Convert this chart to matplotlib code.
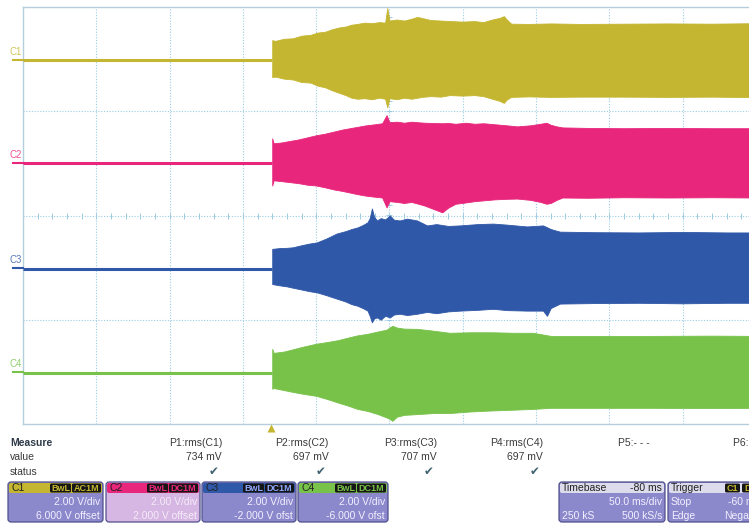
"""
Four-channel scope capture (rms of C1..C4) with measurement/channel strip.
"""

import matplotlib
matplotlib.use('Agg')
import matplotlib.pyplot as plt
from matplotlib.patches import FancyBboxPatch
import numpy as np

plt.rcParams['font.family'] = ['Liberation Sans', 'DejaVu Sans']

# ── Screen scale: 50 ms/div, -80 ms delay; 2 V/div, 8 div ─────
T_LEFT, T_RIGHT = -170, 330
V_LOW, V_HIGH = -8, 8

channels = ['C1', 'C2', 'C3', 'C4']
colors = ['#c4b630', '#e8267c', '#3058a8', '#78c24a']
baselines = [5.96, 2.0, -2.04, -6.04]

# envelopes after the trigger: time (ms), upper / lower edge (V on screen)
c1_t = [0, 2, 8, 14, 20, 26, 31, 36, 41, 46, 50, 54, 58, 63, 68, 73, 77, 78.5, 80, 85, 90, 95, 99, 102,
        108, 115, 121, 130, 138, 144, 150, 155, 158, 160, 163, 175, 190, 210, 240, 270, 300, 330]
c1_hi = [6.73, 6.70, 6.78, 6.80, 6.90, 6.93, 7.02, 7.05, 7.15, 7.22, 7.25, 7.32, 7.35, 7.40, 7.38, 7.42,
         7.40, 7.96, 7.48, 7.52, 7.48, 7.55, 7.62, 7.58, 7.50, 7.48, 7.46, 7.44, 7.46, 7.42, 7.52, 7.58,
         7.65, 7.52, 7.36, 7.35, 7.37, 7.35, 7.36, 7.37, 7.36, 7.38]
c1_lo = [5.31, 5.33, 5.25, 5.22, 5.12, 5.10, 4.98, 4.92, 4.80, 4.70, 4.62, 4.52, 4.48, 4.50, 4.46, 4.52,
         4.48, 4.15, 4.50, 4.46, 4.52, 4.48, 4.52, 4.55, 4.58, 4.56, 4.62, 4.60, 4.62, 4.58, 4.48, 4.40,
         4.32, 4.45, 4.55, 4.57, 4.55, 4.56, 4.56, 4.55, 4.56, 4.54]

c2_t = [0, 1, 6, 12, 18, 24, 30, 36, 42, 48, 53, 58, 64, 70, 75, 78, 80, 85, 90, 95, 99, 104, 110, 116,
        120, 125, 132, 138, 144, 152, 160, 167, 176, 183, 187, 190, 194, 198, 215, 240, 270, 300, 330]
c2_hi = [2.96, 2.77, 2.80, 2.86, 2.92, 3.00, 3.08, 3.14, 3.22, 3.30, 3.35, 3.40, 3.46, 3.50, 3.54, 3.85,
         3.58, 3.60, 3.56, 3.60, 3.58, 3.56, 3.55, 3.54, 3.55, 3.52, 3.56, 3.52, 3.54, 3.50, 3.46, 3.42,
         3.46, 3.52, 3.56, 3.48, 3.42, 3.38, 3.36, 3.35, 3.36, 3.35, 3.35]
c2_lo = [1.15, 1.35, 1.32, 1.28, 1.24, 1.18, 1.15, 1.08, 1.00, 0.94, 0.88, 0.82, 0.76, 0.72, 0.69, 0.31,
         0.55, 0.52, 0.48, 0.52, 0.46, 0.38, 0.25, 0.12, 0.30, 0.45, 0.50, 0.55, 0.58, 0.62, 0.64, 0.65,
         0.60, 0.52, 0.45, 0.48, 0.60, 0.69, 0.68, 0.70, 0.69, 0.70, 0.69]

c3_t = [0, 5, 10, 14, 20, 25, 30.5, 37, 44, 50, 54, 58, 62, 65, 66.5, 68, 69.5, 71.5, 74, 77, 80.3, 83,
        87, 92, 98.8, 105.6, 112, 120, 128, 140, 150.6, 160, 173.8, 184.7, 187.4, 190, 196.3, 220, 250,
        280, 310, 330]
c3_hi = [-1.28, -1.25, -1.24, -1.22, -1.14, -1.08, -1.03, -0.88, -0.69, -0.60, -0.52, -0.46, -0.36, -0.26,
         -0.10, 0.27, -0.05, -0.19, -0.10, -0.15, 0.00, -0.16, -0.19, -0.12, -0.19, -0.38, -0.33, -0.40,
         -0.38, -0.33, -0.31, -0.35, -0.42, -0.38, -0.45, -0.52, -0.62, -0.64, -0.65, -0.63, -0.65, -0.65]
c3_lo = [-2.63, -2.68, -2.72, -2.77, -2.84, -2.90, -2.95, -3.06, -3.19, -3.30, -3.40, -3.46, -3.56, -3.65,
         -3.85, -4.10, -3.95, -3.91, -4.00, -3.85, -3.91, -3.80, -3.77, -3.82, -3.77, -3.70, -3.75, -3.68,
         -3.65, -3.62, -3.58, -3.63, -3.65, -3.65, -3.85, -3.55, -3.38, -3.36, -3.35, -3.37, -3.35, -3.35]

c4_t = [0, 1, 8, 15, 22, 30, 38, 45, 52, 58, 65, 72, 78, 80, 82, 85, 90, 99, 110, 121, 135, 150, 165,
        178, 190, 220, 260, 300, 330]
c4_hi = [-5.12, -5.27, -5.22, -5.12, -5.02, -4.92, -4.85, -4.78, -4.68, -4.60, -4.54, -4.45, -4.38, -4.30,
         -4.23, -4.30, -4.34, -4.35, -4.42, -4.50, -4.48, -4.48, -4.50, -4.50, -4.62, -4.62, -4.62, -4.61,
         -4.62]
c4_lo = [-6.65, -6.62, -6.70, -6.78, -6.85, -6.92, -7.05, -7.18, -7.30, -7.42, -7.50, -7.62, -7.75, -7.80,
         -7.88, -7.72, -7.65, -7.62, -7.58, -7.58, -7.52, -7.48, -7.45, -7.42, -7.38, -7.38, -7.38, -7.39,
         -7.38]

env_t = [c1_t, c2_t, c3_t, c4_t]
env_hi = [c1_hi, c2_hi, c3_hi, c4_hi]
env_lo = [c1_lo, c2_lo, c3_lo, c4_lo]

# ── Measurement / setup strip ────────────────────────────────
meas_names = ['P1:rms(C1)', 'P2:rms(C2)', 'P3:rms(C3)', 'P4:rms(C4)', 'P5:- - -', 'P6:- - -']
meas_values = ['734 mV', '697 mV', '707 mV', '697 mV', '', '']
meas_ok = [True, True, True, True, False, False]

vdiv_text = ['2.00 V/div', '2.00 V/div', '2.00 V/div', '2.00 V/div']
offset_text = ['6.000 V offset', '2.000 V offset', '-2.000 V ofst', '-6.000 V ofst']
coupling = ['AC1M', 'DC1M', 'DC1M', 'DC1M']

# ── Figure ────────────────────────────────────────────────────
fig = plt.figure(figsize=(7.49, 5.23), dpi=100)
fig.patch.set_facecolor('white')

W, H = 749, 523
gx0, gx1, gy0, gy1 = 23, 756, 7, 424
ax = fig.add_axes([gx0 / W, 1 - gy1 / H, (gx1 - gx0) / W, (gy1 - gy0) / H])
ax.set_xlim(T_LEFT, T_RIGHT)
ax.set_ylim(V_LOW, V_HIGH)

grid_c = '#9ccbe3'
for t in np.arange(T_LEFT + 50, T_RIGHT, 50):
    ax.axvline(t, color=grid_c, lw=0.8, ls=(0, (1, 1.5)), zorder=1)
for v in [-4, 0, 4]:
    ax.axhline(v, color=grid_c, lw=0.8, ls=(0, (1, 1.5)), zorder=1)
# minor ticks on the centre lines
mt = np.arange(T_LEFT, T_RIGHT, 10)
ax.plot(mt, np.zeros_like(mt), ls='none', marker='|', ms=4, mew=0.7, color=grid_c, zorder=1)
mv = np.arange(V_LOW, V_HIGH, 0.4)
ax.plot(np.full_like(mv, 80.0), mv, ls='none', marker='_', ms=4, mew=0.7, color=grid_c, zorder=1)

for sp in ax.spines.values():
    sp.set_color('#b4cedd')
    sp.set_linewidth(1.0)
ax.set_xticks([])
ax.set_yticks([])

for i in range(4):
    ax.plot([T_LEFT, 0], [baselines[i], baselines[i]], color=colors[i], lw=2.2,
            solid_capstyle='butt', zorder=3)
    ax.fill_between(env_t[i], env_lo[i], env_hi[i], color=colors[i], lw=0.6,
                    edgecolor=colors[i], zorder=3)

# ── Overlay in pixel coordinates for labels and setup boxes ──
ov = fig.add_axes([0, 0, 1, 1], facecolor='none')
ov.set_xlim(0, W)
ov.set_ylim(H, 0)
ov.axis('off')

base_px = [60, 163, 268, 372]
for i in range(4):
    ov.text(16, base_px[i] - 8, channels[i], color=colors[i], fontsize=7,
            ha='center', va='center', alpha=0.8)
    ov.plot([13, 23], [base_px[i], base_px[i]], color=colors[i], lw=1.5)

# trigger marker
ov.plot([271], [428], marker='^', ms=5.5, color='#c4b630', mec='none')

# measurement table
txt_c = '#3a3a3a'
ov.text(10, 443, 'Measure', fontsize=7.5, fontweight='bold', color='#2e3a48', va='center')
ov.text(10, 457, 'value', fontsize=7.5, color=txt_c, va='center')
ov.text(10, 472, 'status', fontsize=7.5, color=txt_c, va='center')
col_right = [222, 329, 437, 543, 650, 765]
for i in range(6):
    ov.text(col_right[i], 443, meas_names[i], fontsize=7.5, color=txt_c, ha='right', va='center')
    if meas_values[i]:
        ov.text(col_right[i], 457, meas_values[i], fontsize=7.5, color=txt_c, ha='right', va='center')
    if meas_ok[i]:
        ov.text(col_right[i] - 8, 472, '\u2714', fontsize=8.5, color='#3f6270', ha='center',
                va='center', family='DejaVu Sans')

body_c = '#8c88cc'
edge_c = '#50508e'


def setup_box(x, w, head_c, body, head_left):
    ov.add_patch(FancyBboxPatch((x, 482), w, 40, boxstyle='round,pad=0,rounding_size=3',
                                fc=body, ec=edge_c, lw=0.9))
    ov.add_patch(FancyBboxPatch((x + 1, 483), w - 2, 10, boxstyle='round,pad=0,rounding_size=2',
                                fc=head_c, ec='none'))
    ov.text(x + 3, 488, head_left, fontsize=7.5, color='#222222', va='center')


def badge(x, w, label, fg):
    ov.add_patch(FancyBboxPatch((x, 483.5), w, 9, boxstyle='round,pad=0,rounding_size=1.5',
                                fc='#161616', ec='none'))
    ov.text(x + w / 2, 488.2, label, fontsize=6.5, color=fg, ha='center', va='center',
            fontweight='bold')


box_x = [8, 106, 202, 298]
box_w = [95, 94, 94, 90]
bodies = [body_c, '#d6b6e2', body_c, body_c]
body_txt = ['#f2f0ff', '#f4ecf8', '#f2f0ff', '#f2f0ff']
for i in range(4):
    x, w = box_x[i], box_w[i]
    setup_box(x, w, colors[i], bodies[i], channels[i])
    badge(x + w - 53, 21, 'BwL', colors[i] if i != 2 else '#8fa8ff')
    badge(x + w - 31, 29, coupling[i], colors[i] if i != 2 else '#8fa8ff')
    ov.text(x + w - 3, 502, vdiv_text[i], fontsize=7.5, color=body_txt[i], ha='right', va='center')
    ov.text(x + w - 3, 516, offset_text[i], fontsize=7.5, color=body_txt[i], ha='right', va='center')

# timebase box
setup_box(559, 106, '#dcdcec', body_c, 'Timebase')
ov.text(662, 488, '-80 ms', fontsize=7.5, color='#222222', ha='right', va='center')
ov.text(662, 502, '50.0 ms/div', fontsize=7.5, color='#f2f0ff', ha='right', va='center')
ov.text(562, 516, '250 kS', fontsize=7.5, color='#f2f0ff', va='center')
ov.text(662, 516, '500 kS/s', fontsize=7.5, color='#f2f0ff', ha='right', va='center')

# trigger box
setup_box(668, 100, '#dcdcec', body_c, 'Trigger')
badge(725, 15, 'C1', '#c4b630')
badge(742, 18, 'DC', '#c4b630')
ov.text(671, 502, 'Stop', fontsize=7.5, color='#f2f0ff', va='center')
ov.text(760, 502, '-60 ms', fontsize=7.5, color='#f2f0ff', ha='right', va='center')
ov.text(671, 516, 'Edge', fontsize=7.5, color='#f2f0ff', va='center')
ov.text(765, 516, 'Negative', fontsize=7.5, color='#f2f0ff', ha='right', va='center')

fig.savefig('out.png', dpi=100, facecolor='white')
plt.close(fig)
print("out.png saved")
